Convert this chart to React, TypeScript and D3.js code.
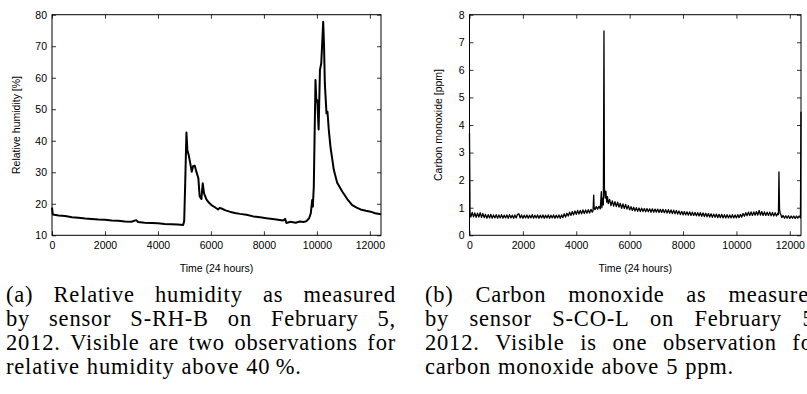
import * as d3 from "d3";
import { useEffect, useRef } from "react";

// tick values
const xTicks = [0, 2000, 4000, 6000, 8000, 10000, 12000];
const rhTicks = [10, 20, 30, 40, 50, 60, 70, 80];
const coTicks = [0, 1, 2, 3, 4, 5, 6, 7, 8];

// relative humidity [%], (time, value)
const rhSeries: [number, number][] = [
  [0, 18.8], [30, 16.6], [250, 16.3], [500, 16.1], [750, 15.7], [1000, 15.6],
  [1250, 15.3], [1500, 15.2], [1750, 15.0], [2000, 14.9], [2250, 14.7], [2500, 14.6],
  [2750, 14.4], [3000, 14.3], [3180, 14.8], [3250, 14.2], [3500, 14.0], [3750, 13.9],
  [4000, 13.8], [4250, 13.6], [4500, 13.5], [4750, 13.4], [4950, 13.3], [4990, 14.5],
  [5030, 27.0], [5075, 42.6], [5110, 37.1], [5160, 35.5], [5225, 32.6], [5275, 30.2],
  [5330, 32.0], [5390, 32.1], [5450, 30.2], [5525, 28.1], [5575, 22.3], [5640, 21.5],
  [5690, 26.5], [5740, 23.3], [5830, 21.4], [5920, 20.4], [6020, 19.6], [6150, 18.9],
  [6270, 18.2], [6330, 18.7], [6400, 18.5], [6550, 17.9], [6710, 17.5], [6900, 17.1],
  [7100, 16.8], [7340, 16.5], [7600, 16.0], [7850, 15.7], [8100, 15.4], [8400, 15.1],
  [8725, 14.7], [8800, 15.2], [8850, 13.9], [9000, 14.3], [9200, 14.0], [9354, 14.4],
  [9500, 14.2], [9606, 14.5], [9707, 15.4], [9770, 17.0], [9821, 21.2], [9846, 19.1],
  [9883, 25.4], [9947, 59.3], [9980, 52.4], [10015, 52.9], [10065, 43.6], [10115, 62.4],
  [10165, 64.6], [10238, 77.8], [10270, 70.0], [10300, 58.2], [10362, 48.7], [10399, 49.2],
  [10450, 43.4], [10514, 38.0], [10640, 30.7], [10766, 26.7], [10956, 23.9], [11145, 21.5],
  [11334, 19.6], [11500, 18.8], [11649, 18.2], [11850, 17.8], [12027, 17.5], [12200, 17.0],
  [12420, 16.7],
];

// carbon monoxide [ppm], (time, value), noisy band included
const coSeries: [number, number][] = [
  [0, 3.7], [20, 0.82], [50, 0.66], [100, 0.83], [150, 0.67], [200, 0.81], [250, 0.65],
  [300, 0.8], [350, 0.66], [400, 0.82], [450, 0.65], [500, 0.79], [550, 0.64], [600, 0.76],
  [650, 0.62], [700, 0.75], [750, 0.63], [800, 0.76], [850, 0.62], [900, 0.74], [950, 0.63],
  [1000, 0.75], [1050, 0.62], [1100, 0.74], [1150, 0.63], [1200, 0.75], [1250, 0.62],
  [1300, 0.73], [1350, 0.63], [1400, 0.74], [1450, 0.62], [1500, 0.75], [1550, 0.63],
  [1600, 0.73], [1650, 0.62], [1700, 0.74], [1750, 0.63], [1800, 0.76], [1850, 0.78],
  [1900, 0.63], [1950, 0.74], [2000, 0.62], [2050, 0.73], [2100, 0.63], [2150, 0.74],
  [2200, 0.62], [2250, 0.73], [2300, 0.63], [2350, 0.75], [2400, 0.62], [2450, 0.73],
  [2500, 0.63], [2550, 0.74], [2600, 0.62], [2650, 0.73], [2700, 0.63], [2750, 0.74],
  [2800, 0.62], [2850, 0.73], [2900, 0.63], [2950, 0.74], [3000, 0.62], [3050, 0.73],
  [3100, 0.63], [3150, 0.74], [3200, 0.62], [3250, 0.73], [3300, 0.63], [3350, 0.74],
  [3400, 0.62], [3450, 0.74], [3500, 0.64], [3550, 0.78], [3600, 0.66], [3650, 0.8],
  [3700, 0.7], [3750, 0.84], [3800, 0.72], [3850, 0.86], [3900, 0.74], [3950, 0.88],
  [4000, 0.76], [4050, 0.9], [4100, 0.77], [4150, 0.9], [4200, 0.78], [4250, 0.92],
  [4300, 0.79], [4350, 0.92], [4400, 0.8], [4450, 0.93], [4500, 0.81], [4550, 0.94],
  [4600, 0.84], [4630, 0.9], [4653, 1.46], [4670, 1.0], [4700, 0.93], [4750, 1.04],
  [4800, 0.95], [4850, 1.05], [4900, 0.96], [4939, 1.58], [4960, 1.0], [4990, 1.35],
  [5015, 1.1], [5038, 7.41], [5055, 1.7], [5080, 1.35], [5110, 1.6], [5140, 1.2],
  [5170, 1.4], [5200, 1.15], [5250, 1.3], [5300, 1.08], [5350, 1.25], [5400, 1.06],
  [5450, 1.22], [5500, 1.04], [5550, 1.2], [5600, 1.02], [5650, 1.16], [5700, 0.98],
  [5750, 1.14], [5800, 0.97], [5850, 1.12], [5900, 0.95], [5950, 1.08], [6000, 0.92],
  [6050, 1.04], [6100, 0.9], [6150, 1.02], [6200, 0.88], [6250, 1.0], [6300, 0.87],
  [6350, 0.99], [6400, 0.86], [6450, 0.98], [6500, 0.86], [6550, 0.97], [6600, 0.85],
  [6650, 0.97], [6700, 0.85], [6750, 0.96], [6800, 0.84], [6850, 0.96], [6900, 0.84],
  [6950, 0.95], [7000, 0.84], [7050, 0.95], [7100, 0.83], [7150, 0.94], [7200, 0.83],
  [7250, 0.94], [7300, 0.82], [7350, 0.93], [7400, 0.81], [7450, 0.93], [7500, 0.8],
  [7550, 0.92], [7600, 0.79], [7650, 0.91], [7700, 0.78], [7750, 0.9], [7800, 0.77],
  [7850, 0.88], [7900, 0.75], [7950, 0.87], [8000, 0.74], [8050, 0.86], [8100, 0.74],
  [8150, 0.85], [8200, 0.73], [8250, 0.85], [8300, 0.72], [8350, 0.84], [8400, 0.72],
  [8450, 0.83], [8500, 0.71], [8550, 0.82], [8600, 0.7], [8650, 0.82], [8700, 0.69],
  [8750, 0.81], [8800, 0.68], [8850, 0.8], [8900, 0.67], [8950, 0.79], [9000, 0.66],
  [9050, 0.78], [9100, 0.65], [9150, 0.77], [9200, 0.65], [9250, 0.77], [9300, 0.64],
  [9350, 0.76], [9400, 0.64], [9450, 0.76], [9500, 0.63], [9550, 0.75], [9600, 0.63],
  [9650, 0.75], [9700, 0.63], [9750, 0.74], [9800, 0.63], [9850, 0.75], [9900, 0.63],
  [9950, 0.74], [10000, 0.63], [10050, 0.75], [10100, 0.64], [10150, 0.76], [10200, 0.66],
  [10250, 0.79], [10300, 0.69], [10350, 0.82], [10400, 0.71], [10450, 0.84], [10500, 0.72],
  [10550, 0.85], [10600, 0.72], [10650, 0.85], [10700, 0.73], [10750, 0.86], [10800, 0.73],
  [10850, 0.9], [10900, 0.73], [10950, 0.86], [11000, 0.72], [11050, 0.85], [11100, 0.72],
  [11150, 0.84], [11200, 0.72], [11250, 0.84], [11300, 0.71], [11350, 0.83], [11400, 0.7],
  [11450, 0.82], [11500, 0.7], [11550, 0.8], [11575, 0.75], [11594, 2.3], [11615, 0.95],
  [11640, 0.8], [11670, 0.74], [11700, 0.64], [11750, 0.72], [11800, 0.62], [11850, 0.71],
  [11900, 0.62], [11950, 0.71], [12000, 0.61], [12050, 0.7], [12100, 0.62], [12150, 0.7],
  [12200, 0.61], [12250, 0.7], [12300, 0.62], [12350, 0.7], [12400, 0.63], [12420, 4.48],
];

const captionA = [
  "(a) Relative humidity as measured",
  "by sensor S-RH-B on February 5,",
  "2012. Visible are two observations for",
  "relative humidity above 40\u2009%.",
];
const captionB = [
  "(b) Carbon monoxide as measured",
  "by sensor S-CO-L on February 5,",
  "2012. Visible is one observation for",
  "carbon monoxide above 5 ppm.",
];

const W = 807;
const H = 394;
const X_MAX = 12420;
const SANS = "Liberation Sans, Arial, sans-serif";
const SERIF = "Liberation Serif, Times New Roman, serif";

function drawPanel(svg, cfg) {
  const { left, right, top, bottom, yDomain, yTicks, yLabel, yLabelX, series, lineWidth } = cfg;
  const x = d3.scaleLinear().domain([0, X_MAX]).range([left, right]);
  const y = d3.scaleLinear().domain(yDomain).range([bottom, top]);
  const g = svg.append("g");

  const line = d3
    .line<[number, number]>()
    .x((d) => x(d[0]))
    .y((d) => y(d[1]));

  g.append("path")
    .datum(series)
    .attr("fill", "none")
    .attr("stroke", "#000")
    .attr("stroke-width", lineWidth)
    .attr("stroke-linejoin", "round")
    .attr("d", line);

  const style = (sel) => {
    sel.select(".domain").remove();
    sel.selectAll("line").attr("stroke", "#000").attr("stroke-width", 0.8);
    sel.selectAll("text").attr("font-family", SANS).attr("font-size", 10.5).attr("fill", "#000");
  };
  const fmt = d3.format("d");

  g.append("g")
    .attr("transform", `translate(0,${bottom})`)
    .call(d3.axisBottom(x).tickValues(xTicks).tickFormat(fmt).tickSize(-4).tickPadding(6))
    .call(style);
  g.append("g")
    .attr("transform", `translate(0,${top})`)
    .call(d3.axisTop(x).tickValues(xTicks).tickSize(-4).tickFormat(() => ""))
    .call(style);
  g.append("g")
    .attr("transform", `translate(${left},0)`)
    .call(d3.axisLeft(y).tickValues(yTicks).tickFormat(fmt).tickSize(-4).tickPadding(5))
    .call(style);
  g.append("g")
    .attr("transform", `translate(${right},0)`)
    .call(d3.axisRight(y).tickValues(yTicks).tickSize(-4).tickFormat(() => ""))
    .call(style);

  g.append("rect")
    .attr("x", left)
    .attr("y", top)
    .attr("width", right - left)
    .attr("height", bottom - top)
    .attr("fill", "none")
    .attr("stroke", "#000")
    .attr("stroke-width", 1);

  g.append("text")
    .attr("transform", `translate(${yLabelX},${(top + bottom) / 2}) rotate(-90)`)
    .attr("text-anchor", "middle")
    .attr("dy", "0.35em")
    .attr("font-family", SANS)
    .attr("font-size", 10.5)
    .text(yLabel);

  g.append("text")
    .attr("x", (left + right) / 2)
    .attr("y", bottom + 37)
    .attr("text-anchor", "middle")
    .attr("font-family", SANS)
    .attr("font-size", 10.5)
    .text("Time (24 hours)");
}

// justified caption, last line left aligned
function drawCaption(svg, lines, x0, width, y0) {
  const lineGap = 24;
  lines.forEach((ln, i) => {
    const words = ln.split(" ");
    const t = svg
      .append("text")
      .attr("y", y0 + i * lineGap)
      .attr("font-family", SERIF)
      .attr("font-size", 22.5)
      .attr("letter-spacing", 0.8)
      .attr("fill", "#000");
    const spans = words.map((w) => t.append("tspan").text(w));
    const widths = spans.map((s) => s.node().getComputedTextLength());
    const total = d3.sum(widths);
    const last = i === lines.length - 1;
    const gap = last ? 7 : (width - total) / (words.length - 1);
    let cx = x0;
    spans.forEach((s, k) => {
      s.attr("x", cx);
      cx += widths[k] + gap;
    });
  });
}

export default function App() {
  const ref = useRef(null);

  useEffect(() => {
    const svg = d3.select(ref.current);
    svg.selectAll("*").remove();

    drawPanel(svg, {
      left: 52, right: 381, top: 14.7, bottom: 235.3,
      yDomain: [10, 80], yTicks: rhTicks, yLabel: "Relative humidity [%]", yLabelX: 16,
      series: rhSeries, lineWidth: 2,
    });
    drawPanel(svg, {
      left: 469.5, right: 801, top: 14.7, bottom: 235.3,
      yDomain: [0, 8], yTicks: coTicks, yLabel: "Carbon monoxide [ppm]", yLabelX: 438,
      series: coSeries, lineWidth: 1.3,
    });

    drawCaption(svg, captionA, 6, 390, 302);
    drawCaption(svg, captionB, 425, 396, 302);
  }, []);

  return (
    <svg
      ref={ref}
      width={W}
      height={H}
      style={{ position: "absolute", left: 0, top: 0, background: "#fff" }}
    />
  );
}
